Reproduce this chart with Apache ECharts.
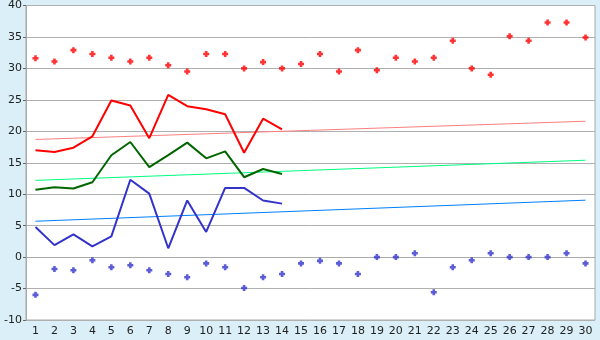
<!DOCTYPE html>
<html><head><meta charset="utf-8">
<script src="https://cdn.jsdelivr.net/npm/echarts@6/dist/echarts.min.js"></script>
<style>html,body{margin:0;padding:0;background:#daeff7}#c{width:600px;height:340px}</style>
</head><body><div id="c"></div>
<script>
var days = [];
for (var d = 1; d <= 30; d++) days.push(String(d));
var maxDots = [31.6,31.1,32.9,32.3,31.7,31.1,31.7,30.5,29.5,32.3,32.3,30.0,31.0,30.0,30.7,32.3,29.5,32.9,29.7,31.7,31.1,31.7,34.4,30.0,29.0,35.1,34.4,37.3,37.3,34.9];
var minDots = [-6.0,-1.9,-2.1,-0.5,-1.6,-1.3,-2.1,-2.7,-3.2,-1.0,-1.6,-4.9,-3.2,-2.7,-1.0,-0.6,-1.0,-2.7,0.0,0.0,0.6,-5.6,-1.6,-0.5,0.6,0.0,0.0,0.0,0.6,-1.0];
var highLine = [17.0,16.7,17.4,19.2,24.9,24.1,18.9,25.8,24.0,23.5,22.7,16.6,22.0,20.3];
var meanLine = [10.7,11.1,10.9,11.9,16.2,18.3,14.3,16.2,18.2,15.7,16.8,12.7,14.0,13.2];
var lowLine = [4.8,1.9,3.6,1.7,3.3,12.3,10.1,1.4,9.0,4.0,11.0,11.0,9.0,8.5];
var highTrend = [18.7, 21.6];
var meanTrend = [12.2, 15.4];
var lowTrend = [5.7, 9.05];
var yTicks = {min: -10, max: 40, interval: 5};

function trend(ends) {
  var a = [];
  for (var i = 0; i < days.length; i++) a.push(null);
  a[0] = ends[0]; a[days.length - 1] = ends[1];
  return a;
}
var plus = 'path://M2,0H5V2H7V5H5V7H2V5H0V2H2Z';
var chart = echarts.init(document.getElementById('c'));
chart.setOption({
  backgroundColor: '#daeff7',
  animation: false,
  grid: {left: 26, right: 5, top: 5, bottom: 20, show: true, backgroundColor: '#ffffff', borderColor: '#aaaaaa', borderWidth: 1},
  xAxis: {
    type: 'category', data: days, boundaryGap: true,
    axisLine: {lineStyle: {color: '#aaaaaa'}},
    axisTick: {alignWithLabel: true, length: 5, lineStyle: {color: '#666666'}},
    axisLabel: {color: '#222', fontFamily: 'DejaVu Sans', fontSize: 11, margin: 6, interval: 0},
    splitLine: {show: false}
  },
  yAxis: {
    type: 'value', min: yTicks.min, max: yTicks.max, interval: yTicks.interval,
    axisLine: {show: true, lineStyle: {color: '#aaaaaa'}},
    axisTick: {show: true, length: 3, lineStyle: {color: '#666666'}},
    axisLabel: {color: '#222', fontFamily: 'DejaVu Sans', fontSize: 11, margin: 4},
    splitLine: {lineStyle: {color: '#b0b0b0', width: 1}}
  },
  series: [
    {type: 'line', data: trend(highTrend), connectNulls: true, symbol: 'none', lineStyle: {color: '#ff8080', width: 1}, z: 1},
    {type: 'line', data: trend(meanTrend), connectNulls: true, symbol: 'none', lineStyle: {color: '#00ff80', width: 1}, z: 1},
    {type: 'line', data: trend(lowTrend), connectNulls: true, symbol: 'none', lineStyle: {color: '#0080ff', width: 1}, z: 1},
    {type: 'line', data: highLine, symbol: 'none', lineStyle: {color: '#ff0000', width: 2}, z: 2},
    {type: 'line', data: meanLine, symbol: 'none', lineStyle: {color: '#006600', width: 2}, z: 2},
    {type: 'line', data: lowLine, symbol: 'none', lineStyle: {color: '#3333cc', width: 2}, z: 2},
    {type: 'scatter', data: maxDots, symbol: plus, symbolSize: 6, itemStyle: {color: '#ff0000'}, z: 3},
    {type: 'scatter', data: minDots, symbol: plus, symbolSize: 6, itemStyle: {color: '#3333cc'}, z: 3}
  ]
});
</script></body></html>
